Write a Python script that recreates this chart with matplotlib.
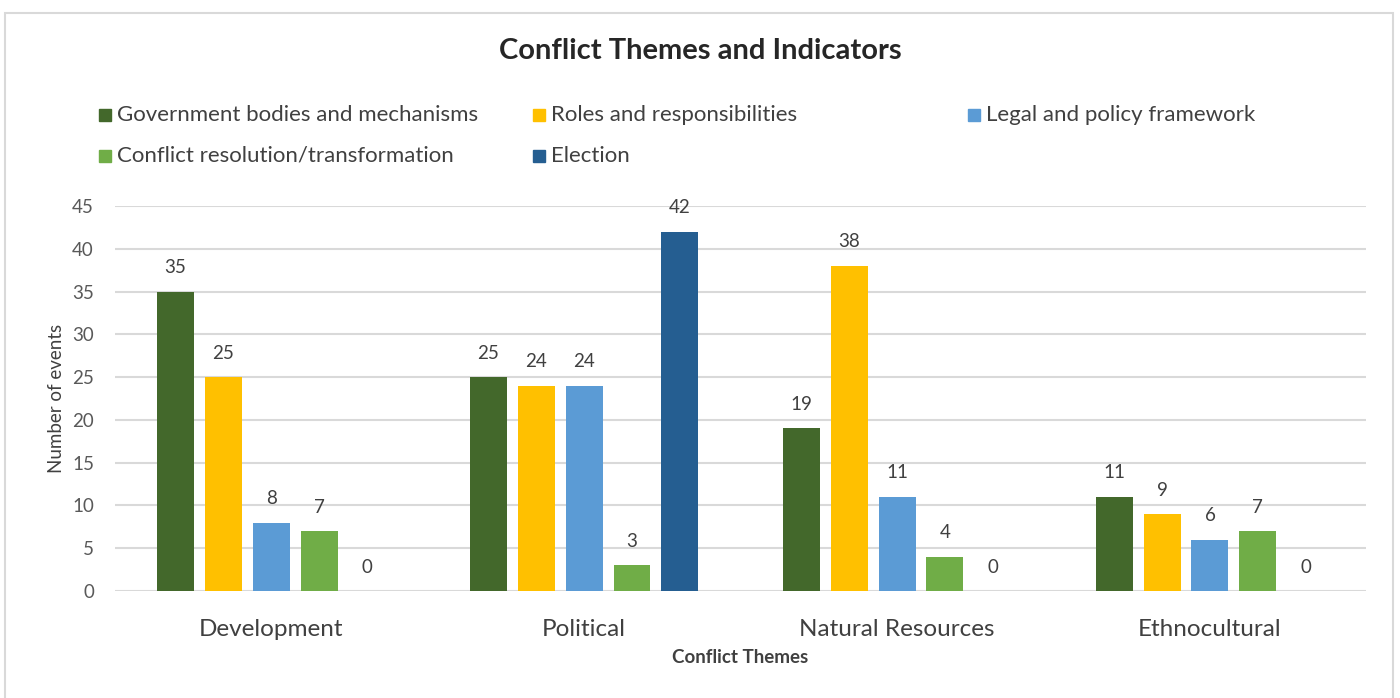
import matplotlib
matplotlib.use("Agg")
import matplotlib.pyplot as plt
from matplotlib.patches import Rectangle
import numpy as np

plt.rcParams['font.family'] = ['Lato', 'DejaVu Sans']

themes = ["Development", "Political", "Natural Resources", "Ethnocultural"]
series = ["Government bodies and mechanisms", "Roles and responsibilities",
          "Legal and policy framework", "Conflict resolution/transformation",
          "Election"]
gov_bodies = [35, 25, 19, 11]
roles = [25, 24, 38, 9]
legal = [8, 24, 11, 6]
resolution = [7, 3, 4, 7]
election = [0, 42, 0, 0]
colores = ['#43682B', '#FFC000', '#5B9BD5', '#70AD47', '#255E91']

valores = [gov_bodies, roles, legal, resolution, election]

fig = plt.figure(figsize=(14, 6.98), dpi=100)
ax = fig.add_axes([0.082, 0.1533, 0.894, 0.5516])

x = np.arange(len(themes))
paso = 0.153
ancho = 0.118
for i, (vals, c) in enumerate(zip(valores, colores)):
    pos = x + (i - 2) * paso
    barras = ax.bar(pos, vals, ancho, color=c, zorder=3)
    for b, v in zip(barras, vals):
        ax.text(b.get_x() + b.get_width() / 2, v + 2.8, str(v), ha='center',
                va='center', fontsize=13.5, color='#404040')

ax.set_xlim(-0.5, 3.5)
ax.set_ylim(0, 45)
ax.set_yticks(range(0, 46, 5))
ax.yaxis.grid(True, color='#d9d9d9', lw=1.5, zorder=0)
ax.tick_params(axis='both', length=0)
ax.tick_params(axis='y', labelsize=13.5, labelcolor='#595959', pad=15)
ax.set_xticks(x)
ax.set_xticklabels(themes, fontsize=17.5, color='#404040')
ax.tick_params(axis='x', pad=20)
for s in ax.spines.values():
    s.set_visible(False)
ax.set_ylabel("Number of events", fontsize=13.5, color='#404040', labelpad=5)
ax.set_xlabel("Conflict Themes", fontsize=13.5, fontweight='bold',
              color='#404040', labelpad=7)

fig.text(0.5, 1 - 51 / 698, "Conflict Themes and Indicators", ha='center',
         va='center', fontsize=21, fontweight='bold', color='#262626')

# leyenda manual
pos_leyenda = [(105, 115), (539, 115), (974, 115), (105, 156), (539, 156)]
for (px, py), nombre, c in zip(pos_leyenda, series, colores):
    fig.patches.append(Rectangle(((px - 6) / 1400, 1 - (py + 6) / 698),
                                 12 / 1400, 12 / 698, transform=fig.transFigure,
                                 color=c))
    fig.text((px + 12) / 1400, 1 - py / 698, nombre, ha='left',
             va='center', fontsize=16, color='#404040')

fig.patches.append(Rectangle((5 / 1400, -0.01), 1388 / 1400, 1 - 13 / 698 + 0.01,
                             transform=fig.transFigure, fill=False,
                             edgecolor='#d9d9d9', lw=1.5))

fig.savefig("out.png", dpi=100)
